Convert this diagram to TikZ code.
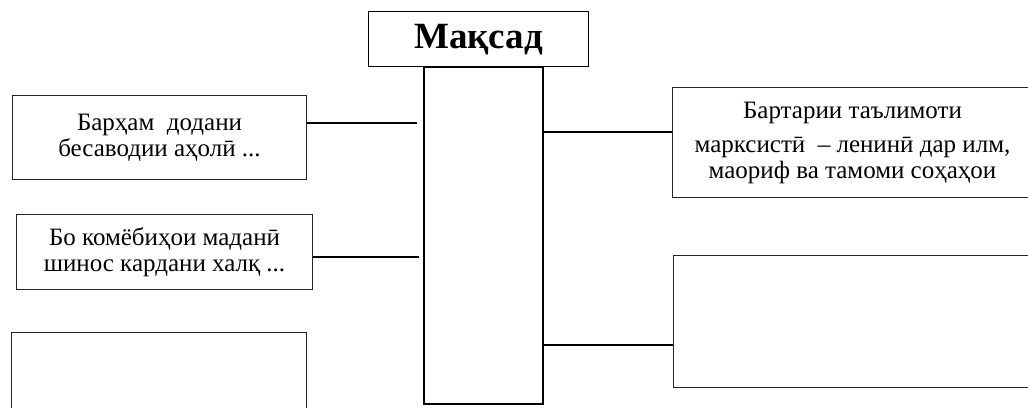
\documentclass[tikz,border=0pt]{standalone}
\usepackage{fontspec}
\setmainfont{Liberation Serif}
\begin{document}
\begin{tikzpicture}[x=1pt,y=-1pt,
  box/.style={draw=black!85, line width=1pt, anchor=north west, inner sep=0pt,
    align=center, font=\fontsize{25}{26}\selectfont},
  link/.style={line width=2pt, black},
  colbox/.style={draw, line width=2pt, anchor=north west, inner sep=0pt}]
\clip (0,0) rectangle (1028,407);
\fill[white] (0,0) rectangle (1028,407);
% goal box and column
\node[colbox, minimum width=119pt, minimum height=337pt] (col) at (423,66) {};
\node[draw, line width=1.3pt, fill=white, anchor=north west, inner sep=0pt,
  minimum width=220pt, minimum height=55pt,
  font=\fontsize{37}{40}\selectfont\bfseries] (goal) at (368,11) {Мақсад};
% left boxes
\node[box, minimum width=294pt, minimum height=84pt] (l1) at (12,95)
  {Барҳам\ \ додани\\бесаводии аҳолӣ ...};
\node[box, minimum width=296pt, minimum height=75pt] (l2) at (16,214)
  {Бо комёбиҳои маданӣ\\шинос кардани халқ ...};
\node[box, minimum width=295pt, minimum height=110pt] (l3) at (11,332) {};
% right boxes
\node[box, minimum width=360pt, minimum height=110pt] (r1) at (672,87)
  {Бартарии таълимоти\\[8pt]марксистӣ\ \ – ленинӣ дар илм,\\маориф ва тамоми соҳаҳои};
\node[box, minimum width=360pt, minimum height=132pt] (r2) at (673,255) {};
% connectors
\draw[link] (l1.east |- 0,123) -- ([xshift=-6pt]col.west |- 0,123);
\draw[link] (l2.east |- 0,257) -- ([xshift=-4pt]col.west |- 0,257);
\draw[link] (col.east |- 0,132) -- (r1.west |- 0,132);
\draw[link] (col.east |- 0,345) -- (r2.west |- 0,345);
\end{tikzpicture}
\end{document}
